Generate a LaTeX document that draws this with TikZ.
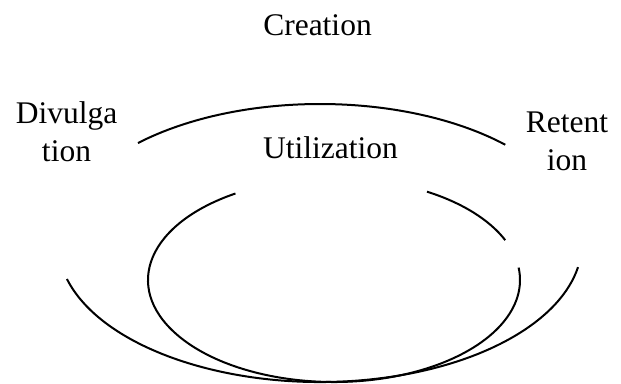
\documentclass[tikz,border=0pt]{standalone}
\usepackage{fontspec}
\setmainfont{Liberation Serif}
\usetikzlibrary{calc}
\begin{document}
\begin{tikzpicture}[x=1pt,y=1pt,
  lbl/.style={font=\fontsize{31.5}{37.5}\selectfont, inner sep=0pt, align=center, anchor=base},
  curve/.style={line width=2pt, black}]
\useasboundingbox (0,0) rectangle (621,-383);
% labels
\node[lbl] (creation) at (317.5,-35) {Creation};
\node[lbl] (divulgation) at (66.5,-161) {Divulga\\tion};
\node[lbl] (retention) at (567,-170) {Retent\\ion};
\node[lbl] (utilization) at (330.5,-158) {Utilization};
% outer ellipse (two arcs)
\coordinate (oc) at (320,-243);
\draw[curve] ($(oc)+(45:262 and 139)$) arc[start angle=45, end angle=134, x radius=262, y radius=139];
\draw[curve] ($(oc)+(195:262 and 139)$) arc[start angle=195, end angle=350, x radius=262, y radius=139];
% inner ellipse (two arcs)
\coordinate (ic) at (334,-280);
\draw[curve] ($(ic)+(122:186 and 102)$) arc[start angle=122, end angle=367, x radius=186, y radius=102];
\draw[curve] ($(ic)+(23:186 and 102)$) arc[start angle=23, end angle=60, x radius=186, y radius=102];
\end{tikzpicture}
\end{document}
